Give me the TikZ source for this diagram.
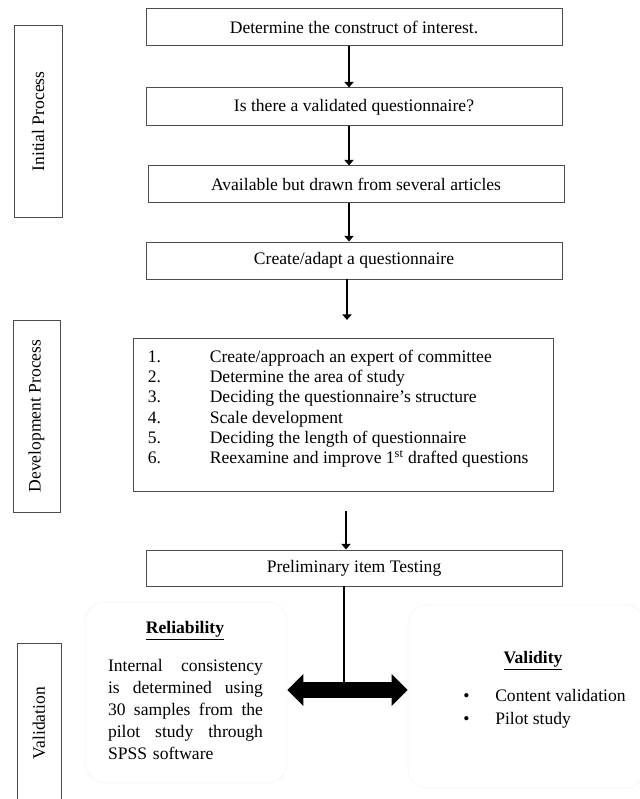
\documentclass[tikz,border=0pt]{standalone}
\usepackage{fontspec}
\setmainfont{Liberation Serif}
\usepackage{tikz}
\usetikzlibrary{arrows.meta,positioning,calc}
\definecolor{BoxLine}{HTML}{4D4D4D}
\definecolor{GhostLine}{HTML}{F6F6F6}

\begin{document}
\begin{tikzpicture}[
  font=\fontsize{12.5}{14.5}\selectfont,
  box/.style={
    draw=BoxLine, line width=0.7pt, minimum width=10.4cm,
    minimum height=0.925cm, inner sep=0pt
  },
  sidebox/.style={draw=BoxLine, line width=0.7pt, rotate=90, inner sep=0pt},
  ghost/.style={draw=GhostLine, line width=0.6pt, rounded corners=14pt},
  arr/.style={-{Triangle[length=4pt,width=6.5pt]}, line width=2.1pt},
  dblarr/.style={
    {Triangle[length=11.4pt,width=22pt]}-{Triangle[length=11.4pt,width=22pt]},
    line width=10.7pt
  },
  ttl/.style={font=\fontsize{12.5}{14.5}\selectfont\bfseries}
]
\useasboundingbox (0,0) rectangle (16,19.975);

% Initial process
\node[box] (b1) at (8.85,19.2875) {Determine the construct of interest.};
\node[box, minimum height=0.95cm] (b2) at (8.85,17.3) {Is there a validated questionnaire?};
\node[box] (b3) at (8.9,15.3625) {Available but drawn from several articles};
\node[box] (b4) at (8.85,13.4625) {Create/adapt a questionnaire};

\coordinate (ax) at (8.725,0);
\draw[arr] (b1.south -| ax) -- (b2.north -| ax);
\draw[arr] (b2.south -| ax) -- (b3.north -| ax);
\draw[arr] (b3.south -| ax) -- (b4.north -| ax);
\coordinate (a4) at (8.675,11.975);
\draw[arr] (b4.south -| a4) -- (a4);

% Development process
\node[box, minimum width=10.5cm, minimum height=3.825cm] (dev) at (8.575,9.6125) {};
\node[anchor=north west, inner sep=0pt, align=left] (steps)
  at ([xshift=0.375cm,yshift=-0.25cm]dev.north west)
  {\begin{tabular}{@{}p{1.55cm}@{}l@{}}
   1. & Create/approach an expert of committee\\
   2. & Determine the area of study\\
   3. & Deciding the questionnaire’s structure\\
   4. & Scale development\\
   5. & Deciding the length of questionnaire\\
   6. & Reexamine and improve 1\textsuperscript{st} drafted questions
   \end{tabular}};

\node[box, minimum height=0.9cm] (pre) at (8.85,5.775) {Preliminary item Testing};
\coordinate (a5) at (8.65,7.2);
\draw[arr] (a5) -- (a5 |- pre.north);

% Validation
\node[ghost, minimum width=5.05cm, minimum height=4.525cm] (rel) at (4.65,2.6625) {};
\node[ghost, minimum width=5.925cm, minimum height=4.575cm] (val) at (13.1625,2.5625) {};

\node[ttl] (relh) at (4.625,4.2) {\underline{Reliability}};
\node[text width=3.875cm, align=left, inner sep=0pt,
  font=\fontsize{12.5}{15.5}\selectfont] (relt) at (4.6375,2.2375)
  {Internal\hfill consistency\\
   is\hfill determined\hfill using\\
   30\hfill samples\hfill from\hfill the\\
   pilot\hfill study\hfill through\\
   SPSS software};

\node[ttl] (valh) at (13.325,3.45) {\underline{Validity}};
\node[anchor=west, align=left, inner sep=0pt,
  font=\fontsize{12.5}{16.4}\selectfont] (valt) at (11.575,2.2625)
  {\makebox[0.8cm][l]{\textbullet}Content validation\\
   \makebox[0.8cm][l]{\textbullet}Pilot study};

\coordinate (jn) at (8.6,2.725);
\draw[line width=1pt] (pre.south -| jn) -- (jn);
\draw[dblarr] (rel.east |- jn) -- (val.west |- jn);

% Side labels
\node[sidebox, minimum width=4.775cm, minimum height=1.2cm] (sini) at (0.95,16.9375) {Initial Process};
\node[sidebox, minimum width=4.8cm, minimum height=1.175cm] (sdev) at (0.9125,9.575) {Development Process};
\node[sidebox, minimum width=4.0cm, minimum height=1.1cm] (sval) at (0.975,1.9) {Validation};

\end{tikzpicture}
\end{document}
